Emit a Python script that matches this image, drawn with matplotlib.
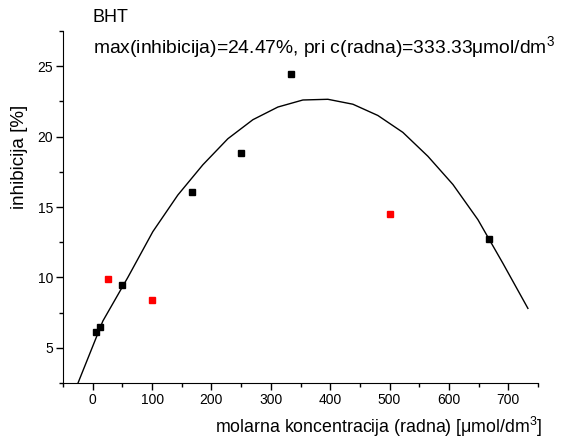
import matplotlib
matplotlib.use('Agg')
import matplotlib.pyplot as plt
from matplotlib.ticker import MultipleLocator

plt.rcParams['font.family'] = ['Liberation Sans', 'DejaVu Sans']
plt.rcParams['mathtext.fontset'] = 'custom'
plt.rcParams['mathtext.rm'] = 'Liberation Sans'
plt.rcParams['mathtext.it'] = 'Liberation Sans'

# measured points (black) and outliers (red)
conc_black = [6.25, 12.5, 50, 166.67, 250, 333.33, 666.67]
inhib_black = [6.1, 6.47, 9.45, 16.05, 18.85, 24.47, 12.7]
conc_red = [25, 100, 500]
inhib_red = [9.86, 8.37, 14.5]

# fitted curve
fit_x = [-25, 17.1, 59.2, 101.3, 143.4, 185.6, 227.7, 269.8, 311.9, 354,
         396.1, 438.2, 480.3, 522.4, 564.6, 606.7, 648.8, 690.9, 733]
fit_y = [2.47, 6.9, 10.0, 13.25, 15.85, 18.0, 19.85, 21.2, 22.1, 22.6,
         22.65, 22.3, 21.5, 20.3, 18.6, 16.6, 14.1, 11.0, 7.8]

fig = plt.figure(figsize=(5.65, 4.41), dpi=100)
ax = fig.add_axes([63 / 565, 58 / 441, 475 / 565, 352 / 441])

ax.plot(fit_x, fit_y, color='black', lw=1.0)
ax.plot(conc_black, inhib_black, 's', color='black', ms=5, mec='black')
ax.plot(conc_red, inhib_red, 's', color='#ff0000', ms=5, mec='#ff0000')

ax.set_xlim(-50, 750)
ax.set_ylim(2.5, 27.5)
ax.xaxis.set_major_locator(MultipleLocator(100))
ax.xaxis.set_minor_locator(MultipleLocator(50))
ax.yaxis.set_major_locator(MultipleLocator(5))
ax.yaxis.set_minor_locator(MultipleLocator(2.5))
ax.spines['top'].set_visible(False)
ax.spines['right'].set_visible(False)
ax.tick_params(which='major', direction='out', length=5, width=1, labelsize=10, pad=2)
ax.tick_params(which='minor', direction='out', length=3, width=1)

ax.set_xlabel('molarna koncentracija (radna) [\u03bcmol/dm$^3$]', fontsize=12.8)
ax.xaxis.set_label_coords(1.01, -0.09)
ax.xaxis.label.set_horizontalalignment('right')
ax.set_ylabel('inhibicija [%]', fontsize=13.5)
ax.yaxis.set_label_coords(-0.074, 0.642)

fig.text(92 / 565, 1 - 18 / 441, 'BHT', fontsize=13, va='center')
fig.text(93 / 565, 1 - 47 / 441,
         'max(inhibicija)=24.47%, pri c(radna)=333.33\u03bcmol/dm$^3$',
         fontsize=13.9, va='center')

fig.savefig('out.png', dpi=100)
